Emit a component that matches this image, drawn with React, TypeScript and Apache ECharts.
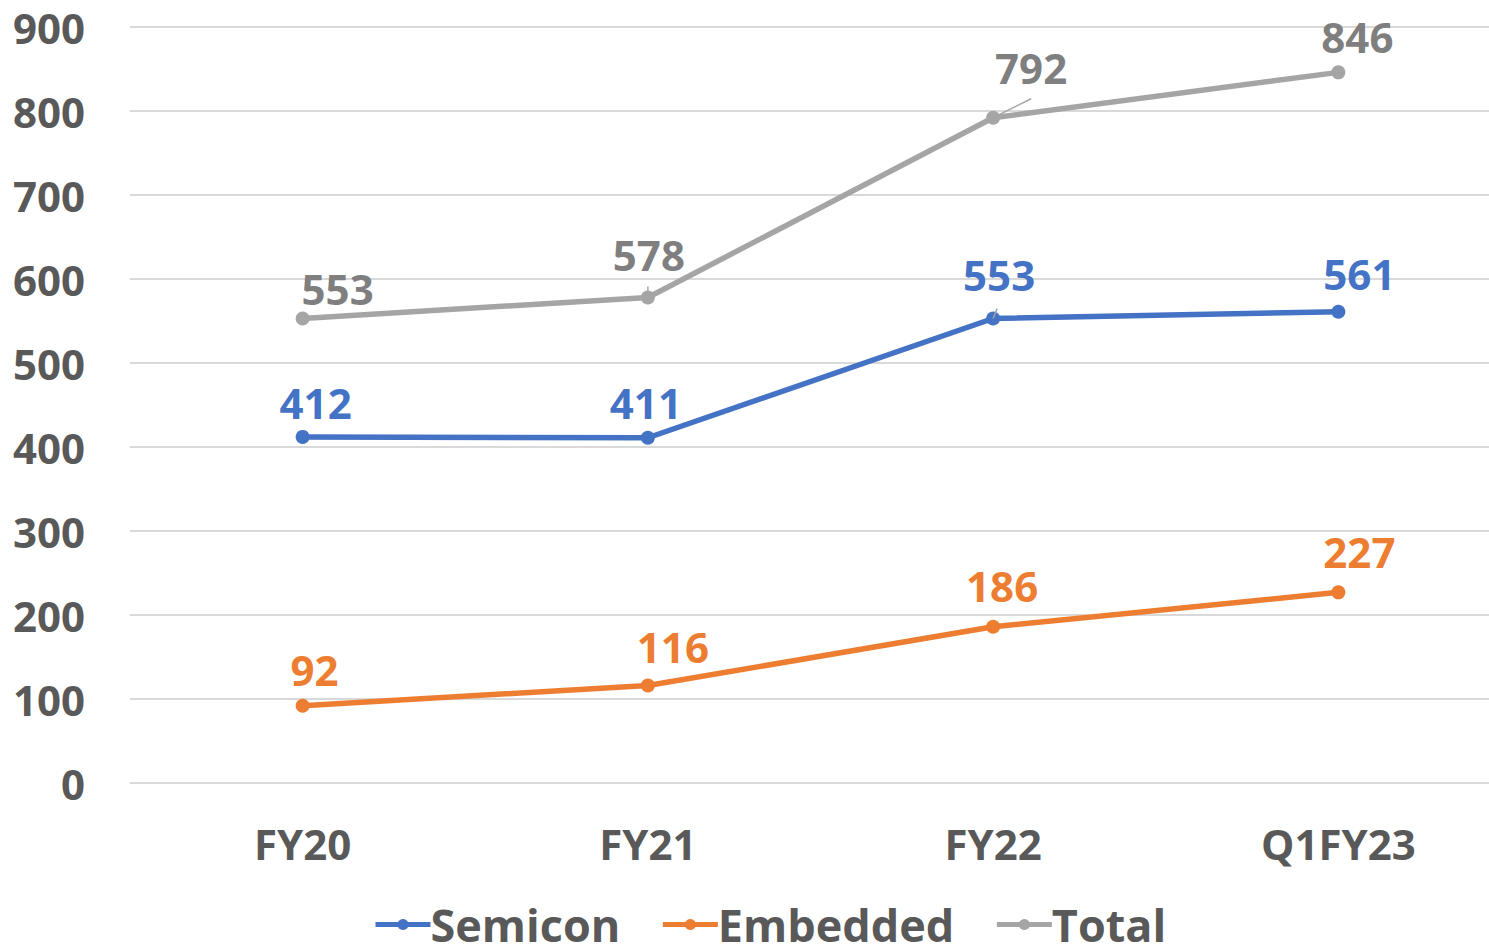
import React, { useEffect, useRef } from "react";
import * as echarts from "echarts";

const categories = ["FY20", "FY21", "FY22", "Q1FY23"];
const semicon = [412, 411, 553, 561];
const embedded = [92, 116, 186, 227];
const total = [553, 578, 792, 846];
const yTicks = [0, 100, 200, 300, 400, 500, 600, 700, 800, 900];

// label nudges (style only)
const semiconShift = [[13, 2], [-2, 1], [6, -8], [21, -2]];
const embeddedShift = [[12, 0], [25, -3], [9, -5], [21, -5]];
const totalShift = [[35, 6], [1, -7], [38, -14], [19, 0]];
// leader lines: [seriesIndex, dataIndex, dx, dy] (style only)
const leaders = [
  [2, 1, 0, -11],
  [2, 2, 38, -19],
  [0, 2, 4, -10],
];

const FONT = "'Open Sans', 'Noto Sans', sans-serif";
const seriesValues = [semicon, embedded, total];

function mk(name: string, values: number[], color: string, labelColor: string, shifts: number[][]) {
  return {
    name,
    type: "line",
    data: values.map((v, i) => ({
      value: v,
      label: { offset: shifts[i] },
    })),
    symbol: "circle",
    symbolSize: 14,
    lineStyle: { color, width: 5.5 },
    itemStyle: { color },
    label: {
      show: true,
      position: "top",
      distance: 8,
      color: labelColor,
      fontFamily: FONT,
      fontWeight: "bold",
      fontSize: 42,
      lineHeight: 42,
    },
  };
}

export default function App() {
  const ref = useRef<HTMLDivElement>(null);
  useEffect(() => {
    if (!ref.current) return;
    const chart = echarts.init(ref.current, null, { renderer: "svg" });
    chart.setOption({
      animation: false,
      backgroundColor: "#ffffff",
      grid: { left: 130, right: 0, top: 27, bottom: 167, containLabel: false, outerBoundsMode: "none" },
      legend: {
        data: ["Semicon", "Embedded", "Total"],
        top: 902,
        left: 373,
        padding: 0,
        itemWidth: 55,
        itemHeight: 14,
        itemGap: 40,
        lineStyle: { width: 5 },
        textStyle: {
          fontFamily: FONT,
          fontWeight: "bold",
          fontSize: 45,
          lineHeight: 45,
          color: "#595959",
          padding: [0, 0, 0, -5],
        },
      },
      xAxis: {
        type: "category",
        data: categories,
        boundaryGap: true,
        axisLine: { show: false },
        axisTick: { show: false },
        axisLabel: {
          margin: 39,
          fontFamily: FONT,
          fontWeight: "bold",
          fontSize: 42,
          lineHeight: 42,
          color: "#595959",
        },
      },
      yAxis: {
        type: "value",
        min: yTicks[0],
        max: yTicks[yTicks.length - 1],
        interval: 100,
        axisLine: { show: false },
        axisTick: { show: false },
        splitLine: { lineStyle: { color: "#d9d9d9", width: 2 } },
        axisLabel: {
          margin: 45,
          fontFamily: FONT,
          fontWeight: "bold",
          fontSize: 42,
          color: "#595959",
        },
      },
      series: [
        mk("Semicon", semicon, "#4472C4", "#4472C4", semiconShift),
        mk("Embedded", embedded, "#ED7D31", "#ED7D31", embeddedShift),
        mk("Total", total, "#A5A5A5", "#7F7F7F", totalShift),
      ],
    });
    const gfx = leaders.map(([s, d, dx, dy]) => {
      const p = chart.convertToPixel({ seriesIndex: s }, [d, seriesValues[s][d]]) as number[];
      return {
        type: "line",
        z: 100,
        shape: { x1: p[0], y1: p[1], x2: p[0] + dx, y2: p[1] + dy },
        style: { stroke: "#A5A5A5", lineWidth: 1.5 },
      };
    });
    chart.setOption({ graphic: gfx });
    return () => chart.dispose();
  }, []);
  return (
    <div
      style={{ position: "absolute", left: 0, top: 0, width: 1489, height: 950, overflow: "hidden", background: "#fff" }}
    >
      <div ref={ref} style={{ position: "absolute", left: 0, top: 0, width: 1511, height: 950 }} />
    </div>
  );
}
